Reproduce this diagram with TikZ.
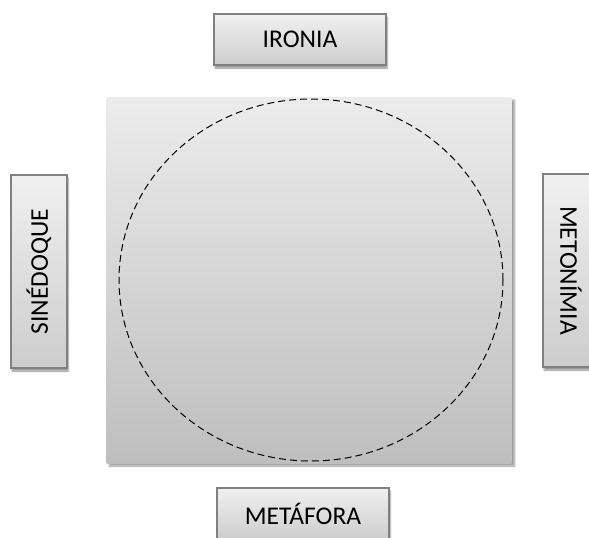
\documentclass[tikz,border=0pt]{standalone}
\usepackage{fontspec}
\setmainfont{Carlito}
\usetikzlibrary{shapes.geometric,shadows.blur}
\definecolor{boxtop}{RGB}{240,240,240}
\definecolor{boxbot}{RGB}{205,205,205}
\definecolor{boxline}{RGB}{128,128,128}
\definecolor{sqtop}{RGB}{236,236,236}
\definecolor{sqbot}{RGB}{190,190,190}
\tikzset{
  label box/.style={draw=boxline, line width=1.2pt, top color=boxtop, bottom color=boxbot,
    minimum width=172pt, minimum height=51pt, inner sep=0pt,
    font=\fontsize{25.5}{30}\selectfont,
    blur shadow={shadow xshift=1pt, shadow yshift=-3pt, shadow blur steps=6, shadow opacity=45}},
  side box/.style={label box, minimum width=193pt, minimum height=56pt},
  panel/.style={top color=sqtop, bottom color=sqbot, minimum width=405pt, minimum height=366pt,
    inner sep=0pt,
    blur shadow={shadow xshift=3pt, shadow yshift=-3pt, shadow blur steps=6, shadow opacity=40}},
  ring/.style={ellipse, draw=black, dash pattern=on 7pt off 4pt, line width=1pt,
    minimum width=384pt, minimum height=362pt, inner sep=0pt}
}
\begin{document}
\begin{tikzpicture}[x=1pt,y=-1pt]
\useasboundingbox (0,0) rectangle (589,538);
\begin{scope}
\clip (0,0) rectangle (589,538);
\node[panel] (sq) at (309,280) {};
\node[ring] (circ) at (311,280) {};
\node[label box] (ironia) at (300,39.5) {IRONIA};
\node[label box] (metafora) at (303,513.5) {METÁFORA};
\node[side box, rotate=90] (sined) at (39,271.5) {SINÉDOQUE};
\node[side box, rotate=-90] (meton) at (571,270.5) {METONÍMIA};
\end{scope}
\end{tikzpicture}
\end{document}
